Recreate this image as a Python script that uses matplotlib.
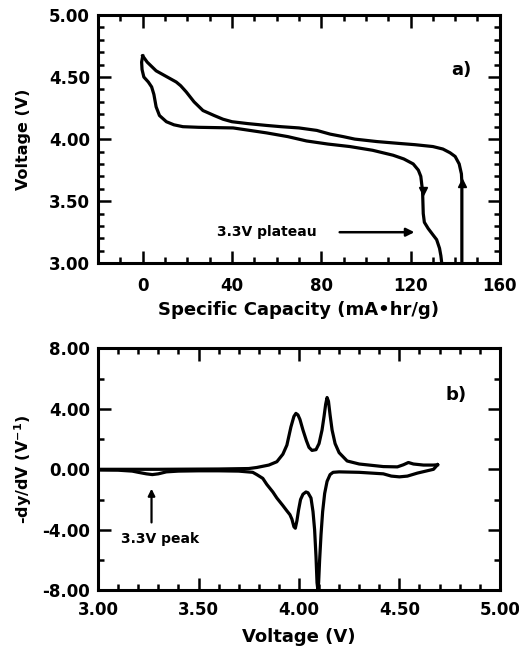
import matplotlib
matplotlib.use("Agg")
import matplotlib.pyplot as plt
from matplotlib.ticker import MultipleLocator, FormatStrFormatter, FixedLocator

plt.rcParams['font.family'] = ['DejaVu Sans']
plt.rcParams['font.weight'] = 'bold'
plt.rcParams['axes.labelweight'] = 'bold'
plt.rcParams['mathtext.default'] = 'bf'

# ---- panel a) voltage vs specific capacity ----
charge_cap = [143.0, 143.0, 143.0, 142.8, 141.8, 140.0, 137.7, 134.5, 130.0, 122.0,
              115.0, 105.0, 95.0, 89.8, 84.0, 78.0, 70.0, 62.0, 55.5, 47.0,
              40.0, 36.0, 32.0, 27.0, 23.0, 19.5, 17.0, 15.0, 11.0, 6.0, 2.0, 0.0]
charge_v = [3.00, 3.40, 3.65, 3.72, 3.80, 3.86, 3.89, 3.92, 3.94, 3.955,
            3.965, 3.98, 4.00, 4.02, 4.04, 4.07, 4.09, 4.10, 4.11, 4.125,
            4.14, 4.16, 4.19, 4.23, 4.30, 4.38, 4.43, 4.46, 4.50, 4.55, 4.62, 4.67]

disch_cap = [0.0, -0.5, -0.3, 0.5, 2.5, 4.0, 5.0, 6.0, 7.5, 10.6,
             14.0, 18.0, 25.0, 40.5, 55.5, 65.0, 73.4, 83.0, 92.8, 103.0,
             112.2, 117.0, 121.2, 123.5, 124.6, 125.4, 125.7, 126.2, 127.9, 130.0,
             131.7, 133.0, 133.6, 134.0]
disch_v = [4.67, 4.62, 4.56, 4.50, 4.46, 4.42, 4.36, 4.26, 4.19, 4.14,
           4.115, 4.10, 4.095, 4.09, 4.05, 4.02, 3.985, 3.96, 3.94, 3.91,
           3.87, 3.84, 3.80, 3.75, 3.70, 3.58, 3.40, 3.33, 3.28, 3.23,
           3.19, 3.12, 3.06, 3.00]

# ---- panel b) differential capacity vs voltage ----
dq_charge_v = [3.00, 3.30, 3.60, 3.75, 3.79, 3.85, 3.89, 3.92, 3.94, 3.96,
               3.975, 3.985, 3.995, 4.005, 4.02, 4.037, 4.05, 4.065, 4.085, 4.10,
               4.115, 4.125, 4.133, 4.14, 4.147, 4.155, 4.165, 4.18, 4.20, 4.24,
               4.30, 4.42, 4.49, 4.52, 4.545, 4.57, 4.62, 4.67, 4.69]
dq_charge = [0.0, 0.0, 0.02, 0.05, 0.12, 0.28, 0.50, 1.0, 1.6, 2.8,
             3.5, 3.7, 3.6, 3.3, 2.6, 1.9, 1.45, 1.25, 1.3, 1.7,
             2.6, 3.5, 4.3, 4.75, 4.5, 3.6, 2.6, 1.7, 1.1, 0.55,
             0.35, 0.18, 0.16, 0.3, 0.45, 0.35, 0.28, 0.28, 0.3]

dq_disch_v = [4.69, 4.67, 4.59, 4.54, 4.50, 4.46, 4.42, 4.30, 4.20, 4.17,
              4.155, 4.14, 4.128, 4.118, 4.11, 4.103, 4.098, 4.094, 4.09, 4.085,
              4.078, 4.07, 4.06, 4.045, 4.035, 4.02, 4.008, 3.998, 3.99, 3.982,
              3.975, 3.965, 3.955, 3.94, 3.92, 3.89, 3.87, 3.84, 3.82, 3.79,
              3.77, 3.70, 3.60, 3.50, 3.40, 3.34, 3.30, 3.27, 3.24, 3.20,
              3.17, 3.10, 3.00]
dq_disch = [0.3, 0.0, -0.25, -0.45, -0.5, -0.45, -0.3, -0.2, -0.17, -0.2,
            -0.35, -0.8, -1.6, -2.8, -4.3, -6.0, -7.5, -7.95, -7.5, -5.8,
            -4.0, -2.8, -1.9, -1.55, -1.5, -1.65, -2.0, -2.7, -3.4, -3.9,
            -3.8, -3.3, -3.0, -2.75, -2.4, -1.9, -1.5, -1.0, -0.6, -0.35,
            -0.2, -0.12, -0.1, -0.1, -0.12, -0.17, -0.3, -0.35, -0.3, -0.2,
            -0.12, -0.06, -0.05]

LW = 2.3


def style_axes(ax):
    for s in ax.spines.values():
        s.set_linewidth(2.2)
    ax.tick_params(which='both', direction='in', top=True, right=True, width=1.8)
    ax.tick_params(which='major', length=9, labelsize=12)
    ax.tick_params(which='minor', length=4.5)


fig = plt.figure(figsize=(5.19, 6.5), dpi=100)

# top panel
ax1 = fig.add_axes([0.189, 0.595, 0.774, 0.382])
ax1.plot(charge_cap, charge_v, color='black', lw=LW, solid_joinstyle='round')
ax1.plot(disch_cap, disch_v, color='black', lw=LW, solid_joinstyle='round')
ax1.plot([143.0], [3.65], marker='^', color='black', ms=6)
ax1.plot([125.4], [3.58], marker='v', color='black', ms=6)
ax1.set_xlim(-20, 160)
ax1.set_ylim(3.0, 5.0)
ax1.xaxis.set_major_locator(FixedLocator([0, 40, 80, 120, 160]))
ax1.xaxis.set_minor_locator(MultipleLocator(10))
ax1.yaxis.set_major_locator(MultipleLocator(0.5))
ax1.yaxis.set_minor_locator(MultipleLocator(0.1))
ax1.yaxis.set_major_formatter(FormatStrFormatter('%.2f'))
style_axes(ax1)
ax1.tick_params(axis='x', which='major', pad=10)
ax1.tick_params(axis='y', which='major', pad=6)
ax1.set_xlabel('Specific Capacity (mA\u2022hr/g)', fontsize=13, labelpad=4)
ax1.set_ylabel('Voltage (V)', fontsize=11.5, labelpad=13)
ax1.text(143, 4.56, 'a)', fontsize=13, fontweight='bold', ha='center', va='center')
ax1.annotate('', xy=(123, 3.25), xytext=(87, 3.25),
             arrowprops=dict(arrowstyle='-|>', color='black', lw=1.8, mutation_scale=12))
ax1.text(55.5, 3.25, '3.3V plateau', fontsize=10, fontweight='bold', ha='center', va='center')

# bottom panel
ax2 = fig.add_axes([0.189, 0.092, 0.774, 0.372])
ax2.plot(dq_charge_v, dq_charge, color='black', lw=LW, solid_joinstyle='round')
ax2.plot(dq_disch_v, dq_disch, color='black', lw=LW, solid_joinstyle='round')
ax2.set_xlim(3.0, 5.0)
ax2.set_ylim(-8, 8)
ax2.xaxis.set_major_locator(MultipleLocator(0.5))
ax2.xaxis.set_minor_locator(MultipleLocator(0.1))
ax2.yaxis.set_major_locator(MultipleLocator(4))
ax2.yaxis.set_minor_locator(MultipleLocator(2))
ax2.xaxis.set_major_formatter(FormatStrFormatter('%.2f'))
ax2.yaxis.set_major_formatter(FormatStrFormatter('%.2f'))
style_axes(ax2)
ax2.tick_params(axis='x', which='major', pad=8)
ax2.tick_params(axis='y', which='major', pad=6)
ax2.set_xlabel('Voltage (V)', fontsize=13, labelpad=6)
ax2.set_ylabel('-dy/dV (V$^{-1}$)', fontsize=11.5, labelpad=6)
ax2.text(4.78, 4.9, 'b)', fontsize=13, fontweight='bold', ha='center', va='center')
ax2.annotate('', xy=(3.266, -1.1), xytext=(3.266, -3.7),
             arrowprops=dict(arrowstyle='-|>', color='black', lw=1.6, mutation_scale=10))
ax2.text(3.31, -4.6, '3.3V peak', fontsize=10, fontweight='bold', ha='center', va='center')

fig.savefig('out.png', dpi=100)
